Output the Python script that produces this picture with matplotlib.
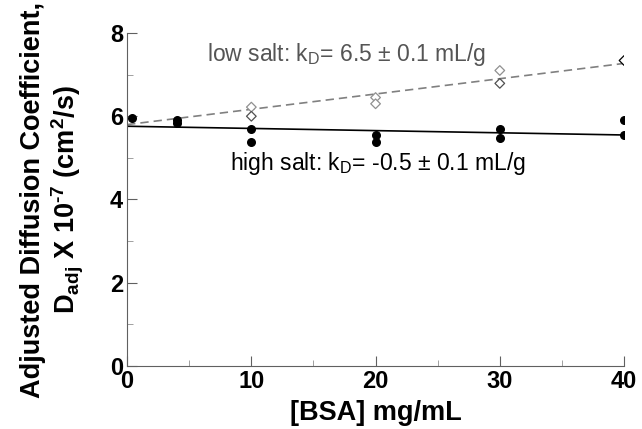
import matplotlib.pyplot as plt

plt.rcParams['font.family'] = ['Liberation Sans', 'DejaVu Sans']
plt.rcParams['mathtext.fontset'] = 'custom'
plt.rcParams['mathtext.rm'] = 'Liberation Sans'
plt.rcParams['mathtext.it'] = 'Liberation Sans'
plt.rcParams['mathtext.bf'] = 'Liberation Sans:bold'

# BSA concentration (mg/mL) and adjusted diffusion coefficients (x 1e-7 cm^2/s)
high_conc = [0.4, 4, 4, 10, 10, 20, 20, 30, 30, 40, 40]
high_d = [5.96, 5.92, 5.84, 5.70, 5.37, 5.54, 5.38, 5.70, 5.48, 5.92, 5.54]
low_conc = [10, 10, 20, 20, 30, 30, 40]
low_d = [6.22, 6.00, 6.45, 6.30, 7.10, 6.79, 7.34]
low_edge = ['#909090', '#505050', '#909090', '#909090', '#909090', '#505050', '#000000']

# linear fits
fit_x = [0, 40]
high_fit = [5.76, 5.55]
low_fit = [5.80, 7.27]

fig = plt.figure(figsize=(6.42, 4.29), dpi=100)
ax = fig.add_axes([0.198, 0.147, 0.774, 0.776])

ax.plot(fit_x, low_fit, color='#808080', ls='--', lw=1.2, dashes=(5, 3))
ax.plot(fit_x, high_fit, color='black', lw=1.2)
ax.scatter(low_conc, low_d, marker='D', s=24, facecolors='white',
           edgecolors=low_edge, linewidths=0.9, zorder=3)
ax.scatter(high_conc, high_d, marker='o', s=30, color='black', zorder=4)

ax.text(6.4, 7.49, 'low salt: k$_\\mathrm{D}$= 6.5 $\\pm$ 0.1 mL/g', color='#555555',
        fontsize=16.5, va='center', ha='left')
ax.text(8.3, 4.87, 'high salt: k$_\\mathrm{D}$= -0.5 $\\pm$ 0.1 mL/g', color='black',
        fontsize=16.5, va='center', ha='left')

ax.set_xlim(0, 40)
ax.set_ylim(0, 8)
ax.set_xticks([0, 10, 20, 30, 40])
ax.set_xticks([5, 15, 25, 35], minor=True)
ax.set_yticks([0, 2, 4, 6, 8])
ax.set_yticks([1, 3, 5, 7], minor=True)
ax.tick_params(direction='in', which='major', length=7, color='#606060',
               labelsize=17, pad=3)
ax.tick_params(direction='in', which='minor', length=4, color='#909090')
for lbl in ax.get_xticklabels() + ax.get_yticklabels():
    lbl.set_fontweight('bold')
for s in ['top', 'right']:
    ax.spines[s].set_visible(False)
for s in ['left', 'bottom']:
    ax.spines[s].set_color('#606060')

ax.set_xlabel('[BSA] mg/mL', fontsize=19.5, fontweight='bold', labelpad=5)
ax.set_ylabel('Adjusted Diffusion Coefficient,\n'
              'D$_{\\mathbf{adj}}$ X 10$^{\\mathbf{\u2010 7}}$ (cm$^{\\mathbf{2}}$/s)',
              fontsize=19.5, fontweight='bold', linespacing=1.15)
ax.yaxis.set_label_coords(-0.083, 0.5)

fig.savefig('out.png', dpi=100)
